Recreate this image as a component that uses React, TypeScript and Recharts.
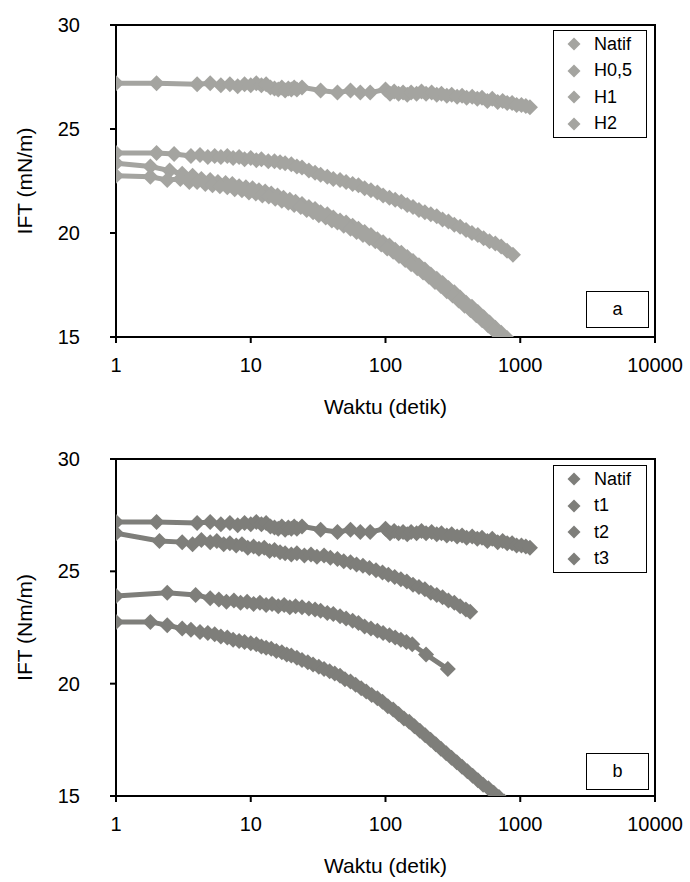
import React from "react";
import { LineChart, Line, XAxis, YAxis, ReferenceArea, Legend } from "recharts";

const FONT = '"Liberation Sans", Arial, Helvetica, sans-serif';

const X_TICKS = [1, 10, 100, 1000, 10000];
const Y_TICKS = [15, 20, 25, 30];

// Natif (same run shown in both panels)
const NATIF_T = [1, 2, 4, 5, 6, 7, 8, 9, 10, 11, 12, 13, 14, 15, 16, 17, 18, 19, 20, 21, 22, 24, 33, 44, 55, 65, 77, 100, 108, 116, 125, 135, 145, 155, 170, 185, 200, 220, 240, 260, 285, 310, 340, 370, 400, 440, 480, 520, 570, 620, 680, 740, 800, 870, 940, 1020, 1100, 1180];
const NATIF_V = [27.2, 27.2, 27.15, 27.2, 27.1, 27.15, 27.05, 27.15, 27.1, 27.2, 27.1, 27.15, 27.0, 26.95, 26.9, 27.0, 26.85, 26.95, 26.9, 27.0, 26.9, 27.0, 26.85, 26.75, 26.85, 26.75, 26.75, 26.9, 26.7, 26.8, 26.7, 26.75, 26.65, 26.75, 26.7, 26.8, 26.7, 26.75, 26.65, 26.7, 26.6, 26.65, 26.55, 26.6, 26.5, 26.55, 26.45, 26.5, 26.35, 26.45, 26.3, 26.35, 26.25, 26.25, 26.15, 26.15, 26.1, 26.05];

// panel a
const H05_T = [1, 2, 2.7, 3.6, 4.2, 4.8, 5.4, 6, 6.7, 7.4, 8.2, 9, 10, 11, 12, 13.5, 15, 16.5, 18, 20, 22, 24, 27, 30, 33, 37, 41, 46, 51, 57, 63, 70, 78, 87, 96, 107, 118, 131, 145, 160, 177, 196, 217, 240, 265, 293, 324, 358, 396, 438, 484, 535, 591, 653, 722, 798, 883];
const H05_V = [23.85, 23.85, 23.8, 23.7, 23.75, 23.65, 23.7, 23.65, 23.7, 23.6, 23.65, 23.55, 23.6, 23.5, 23.55, 23.45, 23.45, 23.4, 23.35, 23.3, 23.2, 23.15, 23.0, 22.9, 22.8, 22.7, 22.6, 22.55, 22.45, 22.35, 22.3, 22.15, 22.05, 21.95, 21.8, 21.7, 21.6, 21.5, 21.35, 21.25, 21.1, 21.0, 20.9, 20.8, 20.65, 20.55, 20.4, 20.3, 20.15, 20.0, 19.9, 19.75, 19.6, 19.5, 19.35, 19.15, 18.95];

const H1_T = [1, 1.8, 2.5, 3.1, 3.7, 4.3, 5, 5.7, 6.5, 7.3, 8.2, 9.2, 10.3, 11.5, 12.8, 14.2, 15.8, 17.5, 19.5, 21.5, 24, 27, 30, 33, 37, 41, 46, 51, 57, 63, 70, 78, 87, 96, 107, 118, 131, 145, 160, 177, 196, 217, 240, 265, 293, 324, 358, 396, 438, 484, 535, 591, 653, 722, 798];
const H1_V = [23.35, 23.2, 23.0, 22.85, 22.75, 22.6, 22.55, 22.45, 22.4, 22.35, 22.25, 22.2, 22.15, 22.05, 22.0, 21.9, 21.8, 21.7, 21.6, 21.5, 21.4, 21.25, 21.15, 21.0, 20.9, 20.75, 20.6, 20.5, 20.35, 20.2, 20.05, 19.9, 19.7, 19.55, 19.4, 19.2, 19.05, 18.85, 18.65, 18.45, 18.25, 18.0, 17.8, 17.6, 17.35, 17.15, 16.9, 16.65, 16.45, 16.2, 15.95, 15.7, 15.45, 15.2, 14.95];

const H2_T = [1, 1.8, 2.4, 3, 3.5, 4, 4.6, 5.2, 5.9, 6.7, 7.6, 8.6, 9.7, 10.9, 12.2, 13.6, 15.2, 17, 19, 21, 23.5, 26, 29, 32, 36, 40, 44, 49, 55, 61, 68, 76, 84, 93, 103, 114, 126, 140, 155, 172, 190, 210, 233, 258, 285, 315, 349, 386, 427, 472, 522, 578, 640, 705, 760];
const H2_V = [22.75, 22.7, 22.55, 22.6, 22.45, 22.45, 22.35, 22.3, 22.25, 22.2, 22.1, 22.05, 21.95, 21.9, 21.8, 21.75, 21.65, 21.55, 21.45, 21.35, 21.25, 21.1, 21.0, 20.85, 20.75, 20.6, 20.5, 20.35, 20.2, 20.05, 19.9, 19.75, 19.6, 19.45, 19.25, 19.1, 18.9, 18.7, 18.5, 18.3, 18.1, 17.9, 17.65, 17.45, 17.2, 17.0, 16.75, 16.5, 16.3, 16.05, 15.8, 15.55, 15.3, 15.05, 14.85];

// panel b
const T1_T = [1, 2.1, 3.1, 3.7, 4.3, 5, 5.6, 6.3, 7, 7.8, 8.6, 9.5, 10.5, 11.5, 12.6, 13.8, 15, 16.5, 18, 20, 22, 25, 28, 31, 35, 39, 44, 49, 55, 61, 68, 76, 85, 95, 105, 117, 130, 144, 160, 177, 196, 217, 240, 265, 293, 324, 358, 395, 425];
const T1_V = [26.7, 26.35, 26.3, 26.2, 26.4, 26.3, 26.35, 26.2, 26.25, 26.15, 26.2, 26.05, 26.1, 26.0, 26.05, 25.9, 25.95, 25.85, 25.8, 25.75, 25.8, 25.7, 25.75, 25.65, 25.7, 25.6, 25.55, 25.45, 25.4, 25.3, 25.25, 25.15, 25.05, 24.95, 24.85, 24.75, 24.65, 24.55, 24.4, 24.3, 24.2, 24.05, 23.95, 23.85, 23.7, 23.6, 23.45, 23.3, 23.2];

const T2_T = [1, 2.4, 3.9, 5, 5.8, 6.6, 7.5, 8.4, 9.4, 10.5, 11.7, 13, 14.4, 16, 17.7, 19.5, 21.5, 24, 27, 30, 33, 37, 41, 46, 51, 57, 63, 70, 78, 87, 96, 107, 118, 130, 143, 158, 200, 290];
const T2_V = [23.9, 24.05, 23.95, 23.8, 23.75, 23.65, 23.7, 23.6, 23.65, 23.55, 23.6, 23.5, 23.55, 23.45, 23.5, 23.4, 23.45, 23.4, 23.35, 23.3, 23.25, 23.15, 23.1, 23.0, 22.9, 22.8, 22.7, 22.55, 22.45, 22.35, 22.25, 22.15, 22.05, 21.95, 21.85, 21.75, 21.3, 20.65];

const T3_T = [1, 1.8, 2.4, 3.1, 3.6, 4.2, 4.8, 5.4, 6, 6.7, 7.4, 8.2, 9, 10, 11, 12, 13, 14.2, 15.5, 17, 18.5, 20, 22, 24, 26.5, 29, 32, 35, 38.5, 42, 46, 50, 55, 60, 66, 72, 79, 87, 95, 104, 114, 125, 137, 150, 164, 180, 197, 216, 236, 258, 282, 309, 338, 370, 405, 443, 485, 530, 580, 635, 695, 760, 820];
const T3_V = [22.75, 22.75, 22.6, 22.45, 22.4, 22.3, 22.25, 22.2, 22.1, 22.05, 21.95, 21.9, 21.85, 21.8, 21.75, 21.65, 21.6, 21.55, 21.45, 21.4, 21.3, 21.25, 21.15, 21.05, 20.95, 20.85, 20.75, 20.65, 20.55, 20.45, 20.35, 20.2, 20.1, 19.95, 19.8, 19.65, 19.5, 19.35, 19.2, 19.0, 18.85, 18.65, 18.45, 18.3, 18.1, 17.9, 17.7, 17.5, 17.3, 17.1, 16.9, 16.7, 16.5, 16.3, 16.1, 15.9, 15.7, 15.5, 15.35, 15.15, 14.95, 14.75, 14.55];

const NAMES_A = ["Natif", "H0,5", "H1", "H2"];
const NAMES_B = ["Natif", "t1", "t2", "t3"];

const toPoints = (t: number[], v: number[]) => t.map((x, i) => ({ t: x, v: v[i] }));

const SERIES_A = [toPoints(NATIF_T, NATIF_V), toPoints(H05_T, H05_V), toPoints(H1_T, H1_V), toPoints(H2_T, H2_V)];
const SERIES_B = [toPoints(NATIF_T, NATIF_V), toPoints(T1_T, T1_V), toPoints(T2_T, T2_V), toPoints(T3_T, T3_V)];

const diamond = (cx: number, cy: number, r: number) =>
  `M${cx},${cy - r}L${cx + r},${cy}L${cx},${cy + r}L${cx - r},${cy}Z`;

const makeDot = (color: string) => (props: any) => {
  const { cx, cy, index } = props;
  if (cx == null || cy == null) return <g key={`e${index}`} />;
  return <path key={`d${index}`} d={diamond(cx, cy, 8)} fill={color} />;
};

// keeps the series order (recharts sorts legend items by name otherwise)
function LegendBox({ names, color }: any) {
  return (
    <div
      style={{
        width: 94,
        boxSizing: "border-box",
        border: "1.5px solid #000",
        background: "#fff",
        fontFamily: FONT,
        fontSize: 18,
        color: "#000",
      }}
    >
      {names.map((n: string) => (
        <div key={n} style={{ display: "flex", alignItems: "center", height: 26.5 }}>
          <svg width={40} height={26} style={{ flex: "none" }}>
            <path d={diamond(20, 13, 6.5)} fill={color} />
          </svg>
          <span>{n}</span>
        </div>
      ))}
    </div>
  );
}

interface PanelProps {
  series: { t: number; v: number }[][];
  names: string[];
  color: string;
  yLabel: string;
  tag: string;
  top: number;
  bottom: number;
  legendTop: number;
  tagTop: number;
}

function Panel({ series, names, color, yLabel, tag, top, bottom, legendTop, tagTop }: PanelProps) {
  const tickStyle = { fontSize: 20, fill: "#000", fontFamily: FONT };
  return (
    <div style={{ position: "relative", width: 690, height: 441 }}>
      <LineChart width={690} height={441} margin={{ top, right: 35, left: 0, bottom }}>
        <XAxis
          dataKey="t"
          type="number"
          scale="log"
          domain={[1, 10000]}
          ticks={X_TICKS}
          allowDataOverflow
          height={80}
          tickSize={6}
          tickMargin={15}
          tick={tickStyle}
          stroke="#000"
          strokeWidth={2}
          label={{
            value: "Waktu (detik)",
            position: "insideBottom",
            offset: 3,
            style: { fontSize: 21, fill: "#000", fontFamily: FONT },
          }}
        />
        <YAxis
          type="number"
          domain={[15, 30]}
          ticks={Y_TICKS}
          allowDataOverflow
          width={116}
          tickSize={6}
          tickMargin={30}
          tick={tickStyle}
          stroke="#000"
          strokeWidth={2}
          label={{
            value: yLabel,
            angle: -90,
            position: "insideLeft",
            offset: 25,
            style: { fontSize: 21, fill: "#000", fontFamily: FONT, textAnchor: "middle" },
          }}
        />
        <ReferenceArea x1={1} x2={10000} y1={15} y2={30} fill="none" stroke="#000" strokeWidth={2} ifOverflow="visible" />
        {series.map((s, i) => (
          <Line
            key={names[i]}
            data={s}
            dataKey="v"
            name={names[i]}
            stroke={color}
            strokeWidth={5}
            dot={makeDot(color)}
            activeDot={false}
            isAnimationActive={false}
          />
        ))}
        <Legend
          layout="vertical"
          align="center"
          verticalAlign="middle"
          wrapperStyle={{ left: 553, top: legendTop, width: 94 }}
          content={<LegendBox names={names} color={color} />}
        />
      </LineChart>
      <div
        style={{
          position: "absolute",
          left: 586,
          top: tagTop,
          width: 63,
          height: 37,
          boxSizing: "border-box",
          border: "1.5px solid #000",
          background: "#fff",
          display: "flex",
          alignItems: "center",
          justifyContent: "center",
          fontFamily: FONT,
          fontSize: 18,
        }}
      >
        {tag}
      </div>
    </div>
  );
}

export default function App() {
  return (
    <div style={{ position: "absolute", left: 0, top: 0, width: 690, height: 882, background: "#fff" }}>
      <Panel
        series={SERIES_A}
        names={NAMES_A}
        color="#a4a4a0"
        yLabel="IFT (mN/m)"
        tag="a"
        top={25}
        bottom={24}
        legendTop={30}
        tagTop={291}
      />
      <Panel
        series={SERIES_B}
        names={NAMES_B}
        color="#7e7e7a"
        yLabel="IFT (Nm/m)"
        tag="b"
        top={18}
        bottom={6}
        legendTop={24}
        tagTop={312}
      />
    </div>
  );
}
